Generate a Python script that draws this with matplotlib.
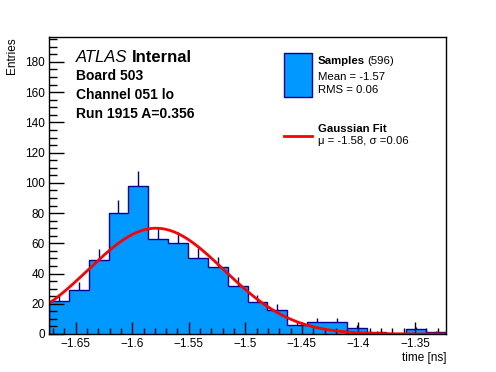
import numpy as np
import matplotlib
matplotlib.use("Agg")
import matplotlib.pyplot as plt
from matplotlib.ticker import MultipleLocator, FixedLocator
from matplotlib.patches import Rectangle
from matplotlib.lines import Line2D

plt.rcParams['font.family'] = ['Liberation Sans', 'DejaVu Sans']

# ---- data ----
x_min, x_max = -1.6736, -1.3226
counts = [22, 29, 49, 80, 98, 63, 60, 50, 44, 32,
          21, 16, 6, 8, 8, 4, 1, 0, 3, 1]
fit_mu, fit_sigma, fit_amp = -1.579, 0.060, 70.0
x_ticks = [-1.65, -1.6, -1.55, -1.5, -1.45, -1.4, -1.35]
x_tick_labels = ["\u22121.65", "\u22121.6", "\u22121.55", "\u22121.5", "\u22121.45", "\u22121.4", "\u22121.35"]
y_ticks = [0, 20, 40, 60, 80, 100, 120, 140, 160, 180]

counts = np.array(counts, dtype=float)
edges = np.linspace(x_min, x_max, len(counts) + 1)
centers = 0.5 * (edges[:-1] + edges[1:])

fill_col = "#0099ff"
edge_col = "#000099"

W, H = 496, 372
fig = plt.figure(figsize=(W / 100, H / 100), dpi=100)
ax = fig.add_axes([49 / W, 1 - 334 / H, (446 - 49) / W, (334 - 36.7) / H])

ax.stairs(counts, edges, fill=True, facecolor=fill_col, edgecolor='none', zorder=1)
ax.stairs(counts, edges, color=edge_col, linewidth=1.0, zorder=2)
mask = counts > 0
ax.vlines(centers[mask], counts[mask], counts[mask] + np.sqrt(counts[mask]),
          color=edge_col, linewidth=1.0, zorder=2)

xf = np.linspace(x_min, x_max, 400)
yf = fit_amp * np.exp(-0.5 * ((xf - fit_mu) / fit_sigma) ** 2)
ax.plot(xf, yf, color="#ff0000", linewidth=2.0, zorder=3)

ax.set_xlim(x_min, x_max)
ax.set_ylim(0, 196.7)
ax.xaxis.set_major_locator(FixedLocator(x_ticks))
ax.set_xticklabels(x_tick_labels)
ax.xaxis.set_minor_locator(MultipleLocator(0.01))
ax.yaxis.set_major_locator(FixedLocator(y_ticks))
ax.yaxis.set_minor_locator(MultipleLocator(5))
ax.tick_params(axis='both', which='both', direction='in', top=False, right=False,
               labelsize=8.5, width=1.0, color='black')
ax.tick_params(axis='x', which='major', length=9, pad=3)
ax.tick_params(axis='x', which='minor', length=4.5)
ax.tick_params(axis='y', which='major', length=11, pad=3)
ax.tick_params(axis='y', which='minor', length=5.5)
for s in ax.spines.values():
    s.set_linewidth(1.0)
    s.set_zorder(5)

fig.text(446 / W, 1 - 358 / H, "time [ns]", ha='right', va='center', fontsize=8.5)
fig.text(12 / W, 1 - 37 / H, "Entries", ha='center', va='top', rotation=90, fontsize=8.5)

# ATLAS labels
t_atlas = fig.text(76 / W, 1 - 58 / H, "ATLAS", style='italic', fontsize=12, va='center', ha='left')
fig.canvas.draw()
bb = t_atlas.get_window_extent(renderer=fig.canvas.get_renderer())
fig.text((bb.x1 + 4) / W, 1 - 58 / H, "Internal", fontweight='bold', fontsize=12, va='center', ha='left')
fig.text(76 / W, 1 - 76 / H, "Board 503", fontweight='bold', fontsize=10, va='center', ha='left')
fig.text(76 / W, 1 - 95 / H, "Channel 051 lo", fontweight='bold', fontsize=10, va='center', ha='left')
fig.text(76 / W, 1 - 114 / H, "Run 1915 A=0.356", fontweight='bold', fontsize=10, va='center', ha='left')

# legend
fig.patches.append(Rectangle((283.5 / W, 1 - 96.7 / H), 28 / W, 43.4 / H,
                             transform=fig.transFigure, facecolor=fill_col,
                             edgecolor=edge_col, linewidth=1.0))
fig.lines.append(Line2D([283.5 / W, 311.5 / W], [1 - 136 / H, 1 - 136 / H],
                        transform=fig.transFigure, color="#ff0000", linewidth=2.0))
fig.text(317.5 / W, 1 - 61 / H, "Samples", fontweight='bold', fontsize=8.2, va='center', ha='left')
fig.text(367.5 / W, 1 - 61 / H, "(596)", fontsize=8.2, va='center', ha='left')
fig.text(317.5 / W, 1 - 76.5 / H, "Mean = -1.57", fontsize=8.2, va='center', ha='left')
fig.text(317.5 / W, 1 - 90 / H, "RMS = 0.06", fontsize=8.2, va='center', ha='left')
fig.text(317.5 / W, 1 - 129 / H, "Gaussian Fit", fontweight='bold', fontsize=8.2, va='center', ha='left')
fig.text(317.5 / W, 1 - 141.5 / H, "\u03bc = -1.58, \u03c3 =0.06", fontsize=8.2, va='center', ha='left')

fig.savefig("out.png", dpi=100)
